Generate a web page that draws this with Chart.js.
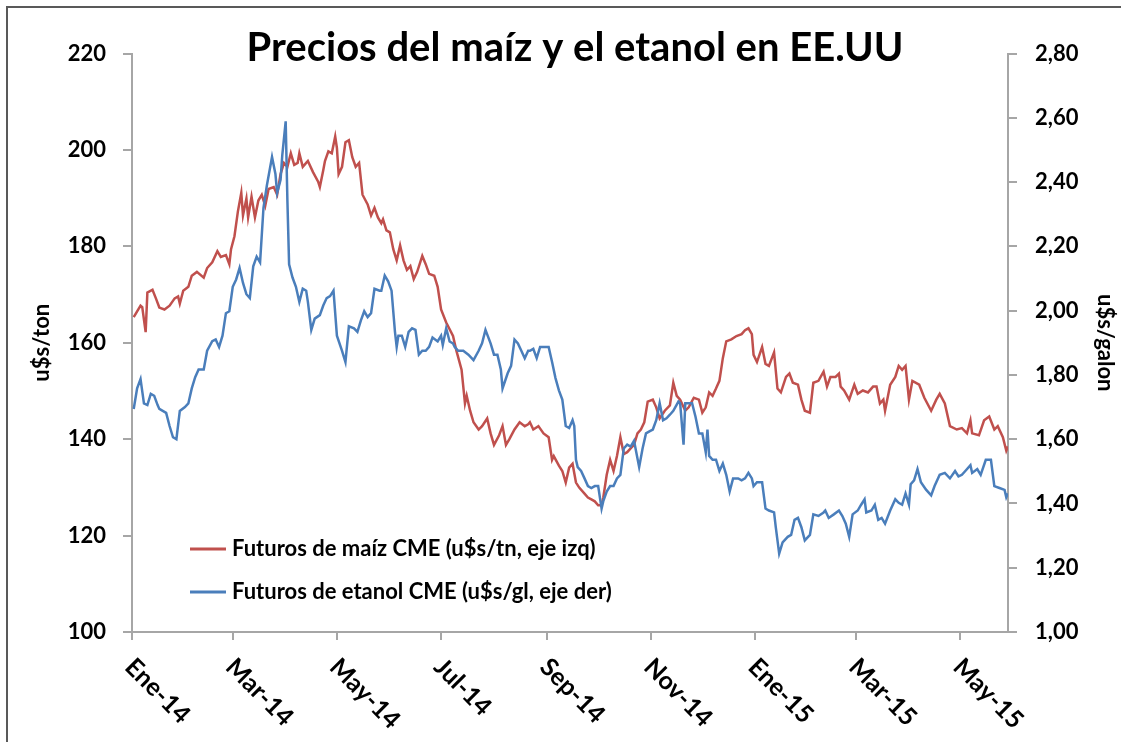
<!DOCTYPE html>
<html>
<head>
<meta charset="utf-8">
<title>Precios del maíz y el etanol en EE.UU</title>
<script src="https://cdn.jsdelivr.net/npm/chart.js@4.4.0/dist/chart.umd.min.js"></script>
<style>
  body { margin: 0; background: #fff; }
  canvas { display: block; }
</style>
</head>
<body>
<canvas id="myChart" width="1130" height="742"></canvas>
<script>
const titulo = 'Precios del maíz y el etanol en EE.UU'

// x = días desde el 1/1/2014
const tickDias = [0, 59, 120, 181, 243, 304, 365, 424, 485]
const tickLabels = ['Ene-14', 'Mar-14', 'May-14', 'Jul-14', 'Sep-14', 'Nov-14', 'Ene-15', 'Mar-15', 'May-15']

const maizLabel = 'Futuros de maíz CME (u$s/tn, eje izq)'
const maizDias = [
  1, 5, 6, 8, 9, 12, 14, 16, 19, 22,
  25, 27, 28, 30, 33, 35, 38, 42, 44, 47,
  50, 52, 55, 57, 58, 60, 62, 64, 65, 67,
  68, 70, 72, 74, 76, 78, 80, 83, 85, 87,
  89, 91, 93, 95, 97, 98, 100, 102, 103, 106,
  109, 110, 112, 113, 115, 117, 119, 120, 121, 123,
  125, 127, 129, 131, 133, 135, 138, 140, 142, 144,
  146, 147, 149, 151, 153, 155, 157, 159, 161, 163,
  165, 167, 170, 172, 174, 177, 179, 181, 184, 188,
  190, 193, 195, 196, 198, 200, 203, 205, 208, 210,
  212, 215, 217, 219, 221, 224, 227, 230, 232, 233,
  235, 238, 241, 244, 246, 247, 250, 252, 254, 256,
  258, 260, 262, 265, 267, 269, 271, 273, 275, 276,
  278, 280, 282, 284, 286, 288, 290, 292, 294, 296,
  298, 300, 302, 305, 307, 309, 312, 315, 317, 319,
  321, 324, 326, 329, 332, 334, 336, 338, 340, 342,
  344, 346, 348, 351, 354, 357, 359, 361, 363, 364,
  366, 369, 371, 373, 376, 378, 380, 383, 385, 387,
  390, 392, 394, 397, 399, 402, 405, 407, 409, 412,
  414, 415, 417, 420, 423, 425, 428, 431, 434, 436,
  438, 440, 441, 444, 447, 449, 451, 453, 455, 457,
  461, 464, 468, 471, 473, 476, 479, 483, 486, 489,
  491, 492, 496, 499, 502, 505, 507, 510, 512, 513
]
const maiz = [
  165.3, 167.7, 167.4, 162.2, 170.4, 171.0, 169.2, 167.3, 166.9, 167.7,
  169.2, 169.6, 168.1, 170.8, 171.6, 173.9, 174.7, 173.5, 175.5, 176.7,
  179.0, 177.8, 178.2, 176.3, 179.4, 182.1, 187.2, 191.1, 186.4, 189.9,
  186.0, 190.3, 186.0, 189.5, 190.7, 188.4, 191.9, 192.3, 190.7, 195.0,
  197.3, 196.5, 199.3, 196.9, 197.3, 199.3, 196.5, 197.3, 197.7, 195.4,
  193.4, 192.3, 195.8, 197.7, 199.7, 199.3, 202.8, 200.4, 195.0, 196.5,
  201.6, 202.0, 198.5, 196.5, 197.3, 190.7, 188.7, 186.4, 188.0, 186.0,
  184.8, 185.6, 183.3, 182.9, 179.4, 177.1, 180.2, 177.1, 175.1, 175.9,
  173.2, 174.7, 178.0, 176.3, 174.3, 173.9, 171.6, 166.9, 164.2, 161.4,
  158.3, 154.4, 147.4, 149.0, 145.9, 143.5, 142.0, 142.7, 144.3, 141.2,
  138.8, 140.8, 142.7, 138.8, 140.0, 142.0, 143.5, 142.7, 143.1, 143.5,
  142.0, 142.7, 141.2, 140.4, 135.7, 136.5, 134.5, 133.4, 131.0, 134.1,
  134.9, 131.0, 129.9, 128.7, 127.9, 127.5, 127.1, 126.3, 126.3, 127.9,
  132.6, 135.7, 133.4, 136.5, 140.4, 136.9, 137.3, 138.1, 138.8, 141.2,
  142.0, 143.5, 147.8, 148.2, 146.6, 144.3, 145.9, 147.0, 151.7, 149.0,
  148.2, 145.9, 146.6, 148.6, 148.2, 145.5, 146.6, 149.7, 149.0, 150.5,
  152.1, 156.8, 160.3, 160.7, 161.4, 161.8, 162.6, 163.0, 161.8, 157.5,
  156.0, 159.1, 155.6, 155.2, 158.0, 150.5, 149.7, 152.9, 153.6, 151.7,
  151.3, 148.2, 145.9, 145.5, 151.7, 152.1, 154.0, 150.9, 152.9, 152.9,
  153.6, 150.9, 150.1, 148.2, 151.3, 149.4, 150.1, 149.7, 150.9, 150.9,
  147.4, 148.2, 145.9, 151.3, 152.9, 155.2, 154.4, 155.2, 148.2, 152.1,
  151.3, 148.6, 145.9, 148.2, 149.4, 147.4, 142.7, 142.0, 142.3, 141.2,
  143.9, 141.2, 140.8, 143.9, 144.7, 142.0, 142.7, 140.4, 137.6, 138.5
]

const etanolLabel = 'Futuros de etanol CME (u$s/gl, eje der)'
const etanolDias = [
  1, 3, 5, 7, 9, 11, 13, 15, 16, 18,
  20, 22, 24, 26, 28, 31, 33, 35, 37, 39,
  42, 44, 47, 49, 51, 53, 55, 57, 59, 61,
  63, 65, 67, 69, 71, 73, 75, 77, 79, 82,
  84, 85, 87, 88, 90, 91, 92, 94, 96, 98,
  100, 102, 103, 105, 107, 110, 112, 114, 116, 118,
  120, 123, 125, 127, 130, 132, 134, 136, 138, 140,
  142, 145, 146, 148, 150, 152, 154, 155, 156, 158,
  160, 162, 164, 166, 168, 170, 172, 174, 176, 179,
  181, 182, 184, 186, 188, 189, 191, 194, 197, 200,
  203, 205, 207, 210, 212, 214, 216, 217, 220, 222,
  224, 226, 228, 230, 232, 233, 235, 237, 239, 242,
  244, 246, 248, 250, 252, 254, 256, 258, 259, 260,
  261, 263, 265, 267, 269, 271, 273, 275, 276, 278,
  280, 282, 284, 286, 288, 290, 292, 294, 297, 299,
  301, 303, 305, 307, 309, 311, 313, 315, 317, 320,
  321, 323, 324, 326, 328, 330, 332, 334, 336, 337,
  338, 340, 342, 344, 346, 348, 350, 352, 355, 357,
  359, 361, 363, 364, 366, 369, 371, 373, 376, 377,
  379, 381, 384, 386, 388, 390, 392, 394, 397, 399,
  402, 405, 406, 408, 411, 414, 416, 418, 420, 422,
  425, 427, 429, 430, 433, 435, 437, 439, 441, 444,
  447, 449, 451, 453, 455, 456, 458, 460, 462, 465,
  468, 470, 473, 476, 479, 482, 484, 486, 488, 491,
  492, 495, 497, 500, 503, 505, 508, 511, 512, 513
]
const etanol = [
  1.694, 1.758, 1.787, 1.711, 1.706, 1.741, 1.735, 1.706, 1.694, 1.688,
  1.682, 1.641, 1.606, 1.600, 1.688, 1.700, 1.711, 1.758, 1.793, 1.817,
  1.817, 1.875, 1.905, 1.910, 1.887, 1.922, 1.992, 1.998, 2.074, 2.097,
  2.133, 2.086, 2.051, 2.039, 2.138, 2.168, 2.150, 2.320, 2.390, 2.478,
  2.425, 2.366, 2.407, 2.483, 2.589, 2.343, 2.144, 2.103, 2.074, 2.027,
  2.068, 2.062, 2.027, 1.940, 1.975, 1.986, 2.016, 2.039, 2.045, 2.062,
  1.922, 1.875, 1.840, 1.951, 1.945, 1.934, 1.969, 1.998, 1.980, 1.992,
  2.068, 2.062, 2.062, 2.109, 2.091, 2.062, 1.934, 1.887, 1.922, 1.922,
  1.887, 1.934, 1.945, 1.940, 1.863, 1.875, 1.875, 1.887, 1.916, 1.904,
  1.922, 1.893, 1.945, 1.904, 1.898, 1.887, 1.875, 1.875, 1.863, 1.846,
  1.875, 1.898, 1.940, 1.898, 1.863, 1.863, 1.817, 1.758, 1.805, 1.828,
  1.910, 1.898, 1.875, 1.852, 1.875, 1.875, 1.881, 1.852, 1.887, 1.887,
  1.887, 1.840, 1.790, 1.752, 1.723, 1.641, 1.635, 1.659, 1.641, 1.536,
  1.513, 1.501, 1.478, 1.454, 1.448, 1.454, 1.454, 1.384, 1.407, 1.437,
  1.454, 1.454, 1.478, 1.489, 1.571, 1.583, 1.577, 1.595, 1.513, 1.571,
  1.618, 1.624, 1.630, 1.659, 1.712, 1.659, 1.665, 1.676, 1.688, 1.717,
  1.712, 1.583, 1.712, 1.712, 1.712, 1.670, 1.618, 1.618, 1.559, 1.630,
  1.548, 1.536, 1.536, 1.501, 1.524, 1.489, 1.437, 1.478, 1.478, 1.472,
  1.478, 1.495, 1.478, 1.454, 1.466, 1.466, 1.384, 1.378, 1.372, 1.326,
  1.244, 1.279, 1.296, 1.302, 1.349, 1.355, 1.326, 1.285, 1.302, 1.366,
  1.361, 1.372, 1.378, 1.355, 1.366, 1.378, 1.361, 1.337, 1.296, 1.366,
  1.378, 1.396, 1.413, 1.372, 1.378, 1.396, 1.349, 1.355, 1.337, 1.378,
  1.413, 1.402, 1.396, 1.431, 1.396, 1.460, 1.472, 1.507, 1.466, 1.443,
  1.425, 1.454, 1.489, 1.495, 1.478, 1.501, 1.484, 1.489, 1.501, 1.519,
  1.495, 1.507, 1.489, 1.536, 1.536, 1.454, 1.448, 1.442, 1.419, 1.431
]

const ROJO = '#C0504D'
const AZUL = '#4A7EBB'
const GRIS = '#A6A6A6'
const FUENTE = 'Lato, "Open Sans", sans-serif'

const toPoints = (dias, valores) => dias.map((d, i) => ({ x: d, y: valores[i] }))

// fondo blanco y marco
const fondo = {
  id: 'fondo',
  beforeDraw: (chart) => {
    const ctx = chart.ctx
    ctx.save()
    ctx.fillStyle = '#fff'
    ctx.fillRect(0, 0, chart.width, chart.height)
    ctx.strokeStyle = '#595959'
    ctx.lineWidth = 2
    ctx.beginPath()
    ctx.moveTo(7, chart.height)
    ctx.lineTo(7, 7)
    ctx.lineTo(1121, 7)
    ctx.stroke()
    ctx.restore()
  }
}

const extras = {
  id: 'extras',
  afterDraw: (chart) => {
    const ctx = chart.ctx
    const xAxis = chart.scales.x
    ctx.save()

    // titulo
    ctx.fillStyle = '#000'
    ctx.font = 'bold 40px ' + FUENTE
    ctx.textAlign = 'center'
    ctx.textBaseline = 'alphabetic'
    ctx.fillText(titulo, 575, 61)

    // etiquetas del eje x, giradas 45 grados
    ctx.font = 'bold 25px ' + FUENTE
    ctx.textAlign = 'left'
    ctx.textBaseline = 'top'
    tickDias.forEach((d, i) => {
      const px = xAxis.getPixelForValue(d)
      ctx.save()
      ctx.translate(px + 6, 654)
      ctx.rotate(Math.PI / 4)
      ctx.fillText(tickLabels[i], 0, 0)
      ctx.restore()
    })

    // leyenda dentro del area
    ctx.font = 'bold 22px ' + FUENTE
    ctx.textBaseline = 'middle'
    chart.data.datasets.forEach((ds, i) => {
      const y = 549 + i * 43
      ctx.strokeStyle = ds.borderColor
      ctx.lineWidth = 3
      ctx.beginPath()
      ctx.moveTo(190, y)
      ctx.lineTo(226, y)
      ctx.stroke()
      ctx.fillStyle = '#000'
      ctx.fillText(ds.label, 232, y)
    })
    ctx.restore()
  }
}

const tickFont = { family: FUENTE, size: 22, weight: 'bold' }

const ctx = document.getElementById('myChart').getContext('2d')
const chart = new Chart(ctx, {
  type: 'line',
  data: {
    datasets: [
      {
        label: maizLabel,
        data: toPoints(maizDias, maiz),
        borderColor: ROJO,
        borderWidth: 2.5,
        pointRadius: 0,
        tension: 0,
        yAxisID: 'y',
        order: 1
      }, {
        label: etanolLabel,
        data: toPoints(etanolDias, etanol),
        borderColor: AZUL,
        borderWidth: 2.5,
        pointRadius: 0,
        tension: 0,
        yAxisID: 'y1',
        order: 0
      }
    ]
  },
  options: {
    responsive: false,
    animation: false,
    devicePixelRatio: 1,
    layout: { padding: { top: 53.5, left: 0, right: 0, bottom: 0 } },
    plugins: {
      legend: { display: false },
      tooltip: { enabled: false },
      title: { display: false }
    },
    scales: {
      x: {
        type: 'linear',
        min: 0,
        max: 513,
        afterBuildTicks: (axis) => { axis.ticks = tickDias.map(v => ({ value: v })) },
        afterFit: (axis) => { axis.height = 110 },
        ticks: { display: false },
        grid: { drawOnChartArea: false, tickLength: 8, color: GRIS, lineWidth: 2 },
        border: { color: GRIS, width: 2 }
      },
      y: {
        position: 'left',
        min: 100,
        max: 220,
        afterFit: (axis) => { axis.width = 132 },
        ticks: { stepSize: 20, padding: 17, color: '#000', font: tickFont },
        grid: { drawOnChartArea: false, tickLength: 9, color: GRIS, lineWidth: 2 },
        border: { color: GRIS, width: 2 },
        title: {
          display: true,
          text: 'u$s/ton',
          color: '#000',
          font: tickFont,
          padding: { top: 29, bottom: 0 }
        }
      },
      y1: {
        position: 'right',
        min: 1,
        max: 2.8,
        afterFit: (axis) => { axis.width = 122 },
        ticks: {
          stepSize: 0.2,
          padding: 18,
          color: '#000',
          font: tickFont,
          callback: (v) => v.toFixed(2).replace('.', ',')
        },
        grid: { drawOnChartArea: false, tickLength: 9, color: GRIS, lineWidth: 2 },
        border: { color: GRIS, width: 2 },
        title: {
          display: true,
          text: 'u$s/galon',
          color: '#000',
          font: tickFont,
          padding: { top: 12, bottom: 0 }
        }
      }
    }
  },
  plugins: [fondo, extras]
})
</script>
</body>
</html>
